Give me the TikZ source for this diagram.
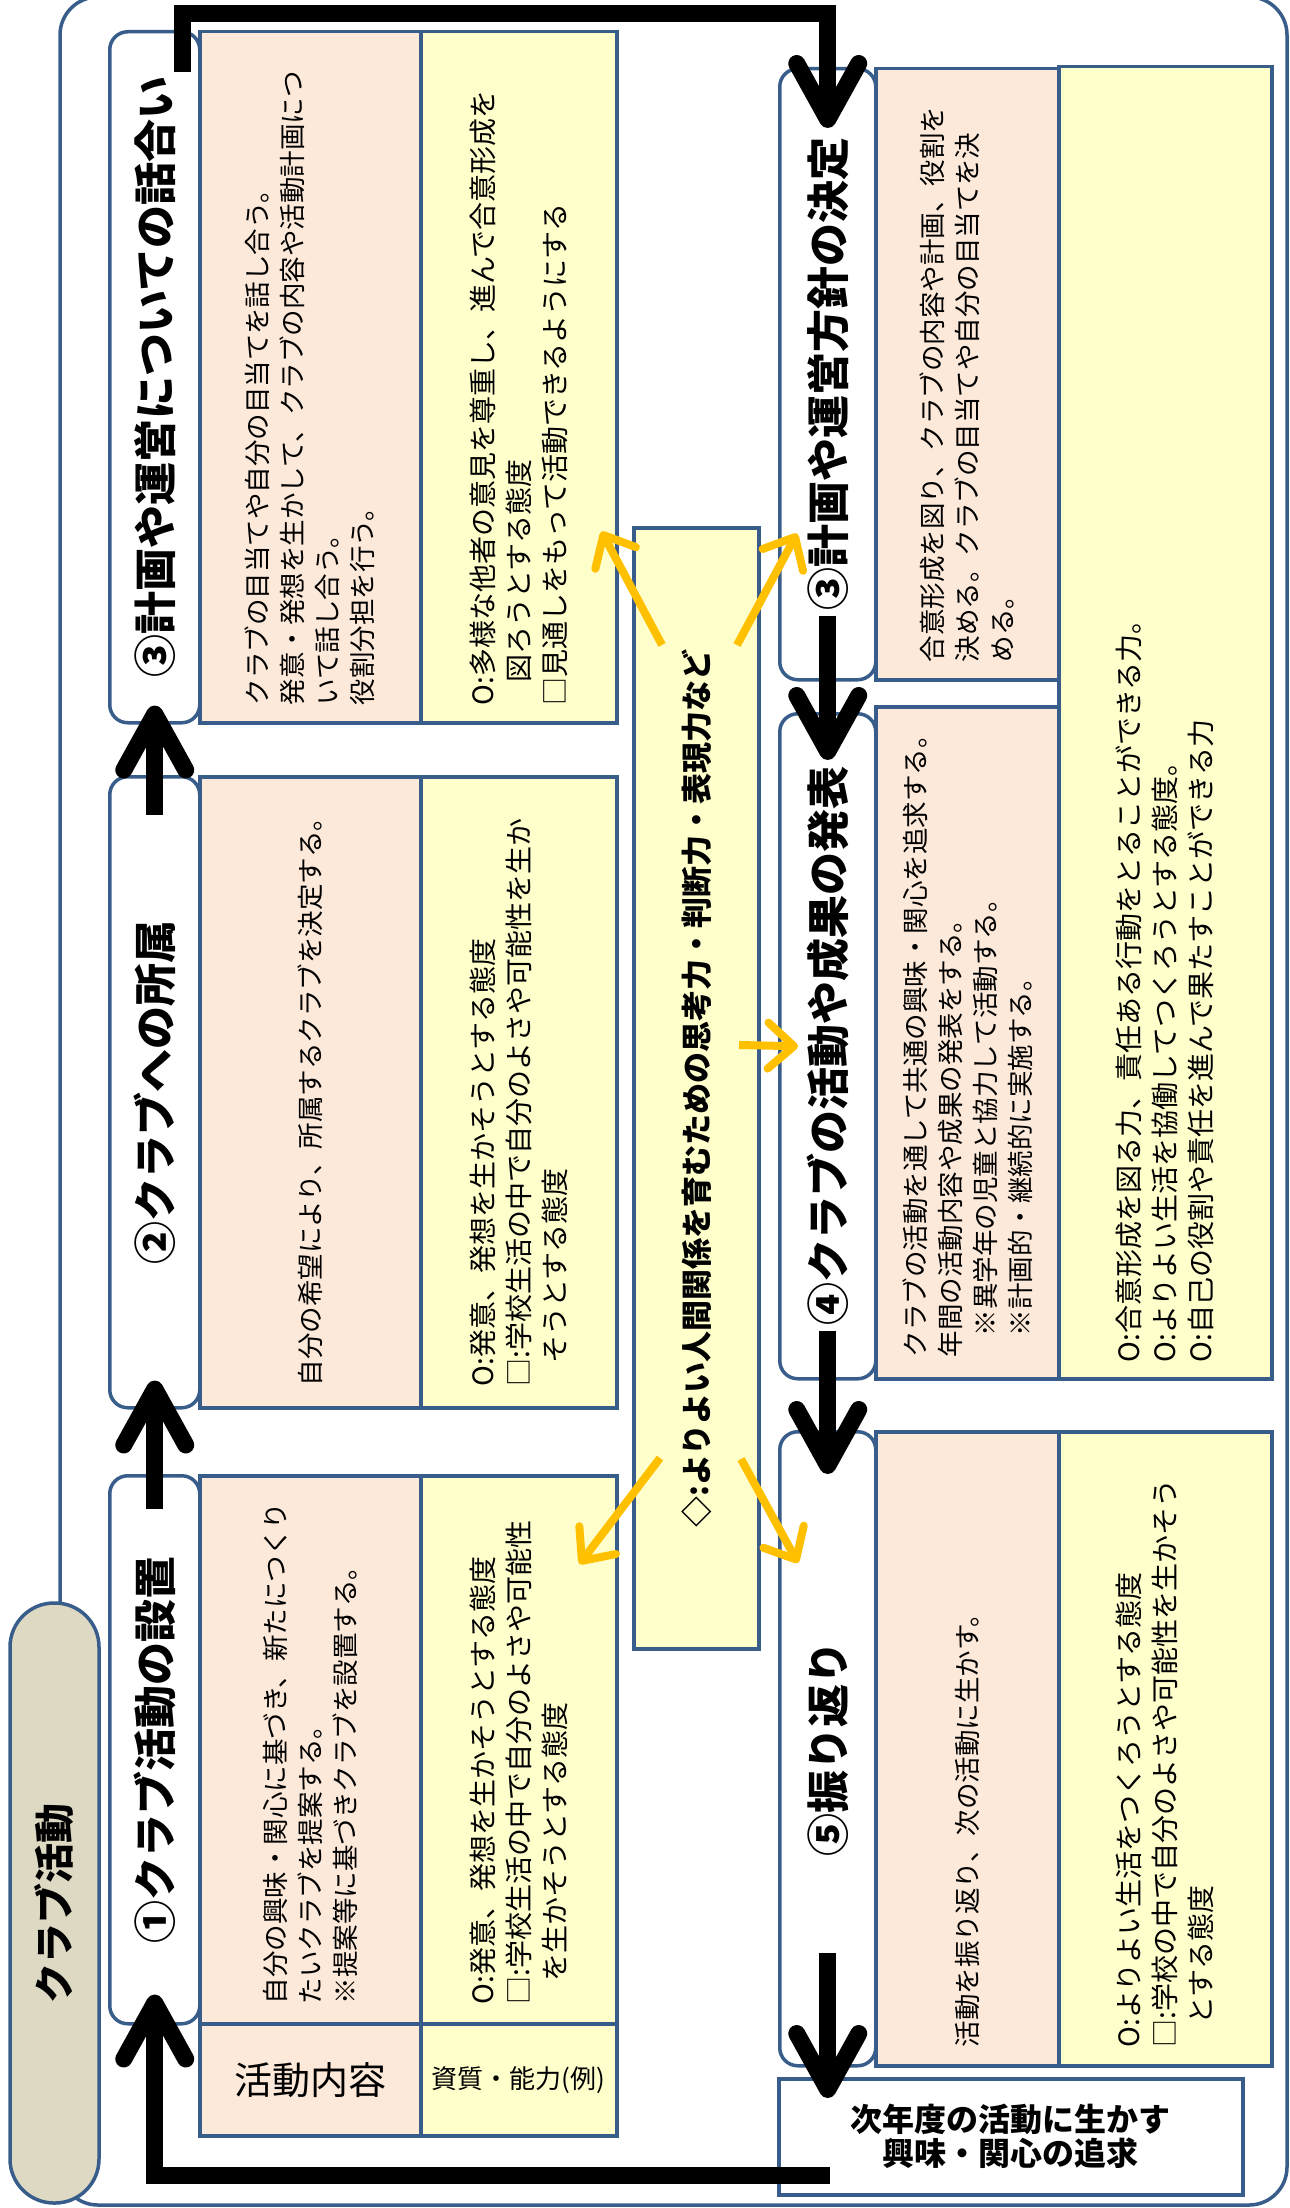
\documentclass[tikz,border=0pt]{standalone}
\usepackage{fontspec}
\setmainfont{Noto Sans CJK JP}
\usepackage{tikz}
\usetikzlibrary{arrows.meta}
\usepackage{xcolor}
\definecolor{ColLine}{RGB}{56,93,138}
\definecolor{ColPink}{RGB}{253,233,217}
\definecolor{ColYellow}{RGB}{255,255,204}
\definecolor{ColTan}{RGB}{221,217,195}
\definecolor{ColOrange}{RGB}{255,192,0}
\newcommand{\Ind}{\hspace*{0.8em}}
\tikzstyle{BoxPink}=[draw=ColLine,fill=ColPink,line width=3.5pt,anchor=north west,inner sep=0pt]
\tikzstyle{BoxYellow}=[draw=ColLine,fill=ColYellow,line width=3.5pt,anchor=north west,inner sep=0pt]
\tikzstyle{BoxLabel}=[draw=ColLine,fill=white,line width=3.5pt,rounded corners=18pt,anchor=north west,inner sep=0pt]
\tikzstyle{TextTitle}=[rotate=90,inner sep=0pt,font=\fontsize{43}{50}\selectfont\bfseries]
\tikzstyle{TextPink}=[rotate=90,anchor=west,inner sep=0pt,align=left,font=\fontsize{26.5}{35}\selectfont]
\tikzstyle{TextYellow}=[rotate=90,anchor=west,inner sep=0pt,align=left,font=\fontsize{28}{36}\selectfont]
\tikzstyle{EdgeFlow}=[line width=17pt,-{Straight Barb[length=56pt,width=62pt,round]}]
\tikzstyle{EdgeIdea}=[ColOrange,line width=8pt,-{Straight Barb[length=26pt,width=46pt,round]}]
\begin{document}
\begin{tikzpicture}[x=1pt,y=-1pt]
  \useasboundingbox (0,0) rectangle (1290,2208);
  \draw[ColLine,line width=3.5pt,rounded corners=38pt] (60,-3) rectangle (1287,2205);
  \node[draw=ColLine,fill=ColTan,line width=3.5pt,rounded corners=44pt,minimum width=89pt,minimum height=600pt,inner sep=0pt] (club) at (54.5,1903) {};
  \node[TextTitle,font=\fontsize{40}{46}\selectfont\bfseries] (tclub) at (club.center) {クラブ活動};

  \node[BoxPink,minimum width=221pt,minimum height=691pt] (pT3) at (198,30) {};
  \node[BoxYellow,minimum width=196pt,minimum height=691pt] (yT3) at (419,30) {};
  \node[BoxLabel,minimum width=90pt,minimum height=691pt] (lT3) at (108,30) {};
  \node[BoxPink,minimum width=221pt,minimum height=631pt] (pT2) at (198,775) {};
  \node[BoxYellow,minimum width=196pt,minimum height=631pt] (yT2) at (419,775) {};
  \node[BoxLabel,minimum width=90pt,minimum height=631pt] (lT2) at (108,775) {};
  \node[BoxPink,minimum width=221pt,minimum height=548pt] (pT1) at (198,1474) {};
  \node[BoxYellow,minimum width=196pt,minimum height=548pt] (yT1) at (419,1474) {};
  \node[BoxLabel,minimum width=90pt,minimum height=548pt] (lT1) at (108,1474) {};
  \node[BoxPink,minimum width=221pt,minimum height=112pt] (pT0) at (198,2022) {};
  \node[BoxYellow,minimum width=196pt,minimum height=112pt] (yT0) at (419,2022) {};

  \node[BoxYellow,line width=4pt,minimum width=125pt,minimum height=1121pt] (cen) at (632,526) {};

  \node[BoxPink,minimum width=183pt,minimum height=611pt] (pD3) at (874,67) {};
  \node[BoxYellow,minimum width=213pt,minimum height=1312pt] (yR34) at (1057,65) {};
  \node[BoxLabel,minimum width=96pt,minimum height=611pt] (lD3) at (778,67) {};
  \node[BoxPink,minimum width=183pt,minimum height=672pt] (pR4) at (874,705) {};
  \node[BoxLabel,minimum width=96pt,minimum height=665pt] (lR4) at (778,712) {};
  \node[BoxPink,minimum width=183pt,minimum height=634pt] (pR5) at (874,1430) {};
  \node[BoxYellow,minimum width=213pt,minimum height=634pt] (yR5) at (1057,1430) {};
  \node[BoxLabel,minimum width=96pt,minimum height=634pt] (lR5) at (778,1430) {};
  \node[draw=ColLine,fill=white,line width=3.5pt,anchor=north west,minimum width=464pt,minimum height=116pt,inner sep=0pt] (nxt) at (777,2077) {};

  \node[TextTitle] (hT3) at (lT3.center) {③計画や運営についての話合い};
  \node[TextPink] (bT3) at ([yshift=19pt]pT3.south) {クラブの目当てや自分の目当てを話し合う。\\発意・発想を生かして、クラブの内容や活動計画につ\\いて話し合う。\\役割分担を行う。};
  \node[TextYellow] (cT3) at ([yshift=19pt]yT3.south) {O:多様な他者の意見を尊重し、進んで合意形成を\\\Ind 図ろうとする態度\\□見通しをもって活動できるようにする};
  \node[TextTitle] (hT2) at (lT2.center) {②クラブへの所属};
  \node[TextPink] (bT2) at ([yshift=23pt]pT2.south) {自分の希望により、所属するクラブを決定する。};
  \node[TextYellow] (cT2) at ([yshift=23pt]yT2.south) {O:発意、発想を生かそうとする態度\\□:学校生活の中で自分のよさや可能性を生か\\\Ind そうとする態度};
  \node[TextTitle] (hT1) at (lT1.center) {①クラブ活動の設置};
  \node[TextPink] (bT1) at ([yshift=21pt]pT1.south) {自分の興味・関心に基づき、新たにつくり\\たいクラブを提案する。\\※提案等に基づきクラブを設置する。};
  \node[TextYellow] (cT1) at ([yshift=21pt]yT1.south) {O:発意、発想を生かそうとする態度\\□:学校生活の中で自分のよさや可能性\\\Ind を生かそうとする態度};
  \node[inner sep=0pt,font=\fontsize{38}{44}\selectfont] (tpT0) at (pT0.center) {活動内容};
  \node[inner sep=0pt,font=\fontsize{26}{30}\selectfont] (tyT0) at (yT0.center) {資質・能力(例)};

  \node[TextTitle,font=\fontsize{31}{36}\selectfont\bfseries] (tcen) at (cen.center) {◇:よりよい人間関係を育むための思考力・判断力・表現力など};

  \node[TextTitle] (hD3) at (lD3.center) {③計画や運営方針の決定};
  \node[TextPink] (bD3) at ([yshift=19pt]pD3.south) {合意形成を図り、クラブの内容や計画、役割を\\決める。クラブの目当てや自分の目当てを決\\める。};
  \node[TextTitle] (hR4) at (lR4.center) {④クラブの活動や成果の発表};
  \node[TextPink] (bR4) at ([yshift=23pt]pR4.south) {クラブの活動を通して共通の興味・関心を追求する。\\年間の活動内容や成果の発表をする。\\\Ind ※異学年の児童と協力して活動する。\\\Ind ※計画的・継続的に実施する。};
  \node[TextYellow] (cR4) at ([yshift=18pt]yR34.south) {O:合意形成を図る力、責任ある行動をとることができる力。\\O:よりよい生活を協働してつくろうとする態度。\\O:自己の役割や責任を進んで果たすことができる力};
  \node[TextTitle] (hR5) at (lR5.center) {⑤振り返り};
  \node[TextPink] (bR5) at ([yshift=20pt]pR5.south) {活動を振り返り、次の活動に生かす。};
  \node[TextYellow] (cR5) at ([yshift=20pt]yR5.south) {O:よりよい生活をつくろうとする態度\\□:学校の中で自分のよさや可能性を生かそう\\\Ind とする態度};
  \node[align=center,inner sep=0pt,font=\fontsize{32}{34}\selectfont\bfseries] (tnxt) at (nxt.center) {次年度の活動に生かす\\興味・関心の追求};

  \coordinate (topbar) at (500,13.5);
  \coordinate (dR5) at (lR5.south |- nxt.north);
  \draw[EdgeFlow] ([shift={(28pt,-42pt)}]lT3.north) |- (topbar) -| ([yshift=-61pt]lD3.north);
  \draw[EdgeFlow] ([yshift=66pt]lD3.south) -- ([yshift=-48pt]lR4.north);
  \draw[EdgeFlow] ([yshift=50pt]lR4.south) -- ([yshift=-44pt]lR5.north);
  \draw[EdgeFlow] ([yshift=115pt]lR5.south) -- ([yshift=-21pt]dR5);
  \draw[EdgeFlow] ([shift={(53pt,-39pt)}]nxt.west) -| ([yshift=31pt]lT1.south);
  \draw[EdgeFlow] ([yshift=-35pt]lT1.north) -- ([yshift=29pt]lT2.south);
  \draw[EdgeFlow] ([yshift=-40pt]lT2.north) -- ([yshift=19pt]lT3.south);

  \draw[EdgeIdea] ([shift={(30pt,-119pt)}]cen.north west) -- ([shift={(-17pt,193pt)}]yT3.south east);
  \draw[EdgeIdea] ([shift={(-24pt,-119pt)}]cen.north east) -- ([shift={(19pt,148pt)}]lD3.south west);
  \draw[EdgeIdea] ([shift={(-22pt,-519pt)}]cen.north east) -- ([xshift=20pt]lR4.west);
  \draw[EdgeIdea] ([shift={(28pt,-932pt)}]cen.north west) -- ([shift={(-39pt,-90pt)}]yT1.north east);
  \draw[EdgeIdea] ([shift={(-20pt,-933pt)}]cen.north east) -- ([shift={(20pt,-133pt)}]lR5.north west);
\end{tikzpicture}
\end{document}
